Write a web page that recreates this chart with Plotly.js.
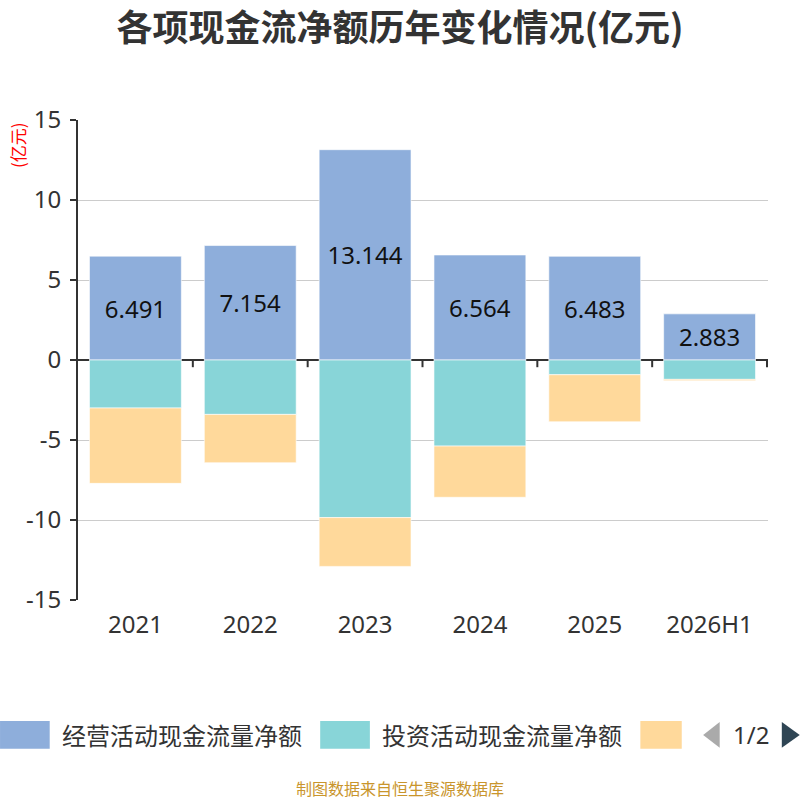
<!DOCTYPE html>
<html>
<head>
<meta charset="utf-8">
<script src="https://cdn.plot.ly/plotly-3.0.1.min.js"></script>
<style>
  html, body { margin: 0; padding: 0; background: #fff; }
  #chart { width: 800px; height: 800px; }
</style>
</head>
<body>
<div id="chart"></div>
<script>
// values (亿元)
var years = ['2021', '2022', '2023', '2024', '2025', '2026H1'];
var operating = [6.491, 7.154, 13.144, 6.564, 6.483, 2.883];
var investing = [-3.0, -3.4, -9.85, -5.38, -0.92, -1.21];
var financing = [-4.71, -3.02, -3.05, -3.2, -2.94, -0.08];

var yTicks = [-15, -10, -5, 0, 5, 10, 15];
var yTickText = ['-15', '-10', '-5', '0', '5', '10', '15'];

var seriesNames = ['经营活动现金流量净额', '投资活动现金流量净额', '筹资活动现金流量净额'];
var seriesColors = ['#8eaedb', '#88d5d8', '#ffd99b'];

var font = '"Noto Sans", "Noto Sans CJK SC", sans-serif';
var cjkFont = '"Noto Sans CJK SC", "Noto Sans", sans-serif';

function barTrace(values, i, withText) {
    var t = {
        type: 'bar',
        name: seriesNames[i],
        x: years,
        y: values,
        marker: { color: seriesColors[i], line: { color: 'rgba(255,255,255,0.6)', width: 1 } },
        hoverinfo: 'x+y+name',
        textposition: 'none'
    };
    if (withText) {
        t.text = values.map(function (v) { return v.toFixed(3); });
        t.textposition = 'inside';
        t.insidetextanchor = 'middle';
        t.textfont = { size: 24, color: '#111', family: font };
    }
    return t;
}

var data = [
    barTrace(operating, 0, true),
    barTrace(investing, 1, false),
    barTrace(financing, 2, false)
];

// hand-made legend (the original one pages: only two and a half items fit)
var shapes = [
    { type: 'rect', xref: 'paper', yref: 'paper', x0: -0.113, x1: -0.041, y0: -0.252, y1: -0.310,
      fillcolor: seriesColors[0], line: { width: 0 } },
    { type: 'rect', xref: 'paper', yref: 'paper', x0: 0.351, x1: 0.423, y0: -0.252, y1: -0.310,
      fillcolor: seriesColors[1], line: { width: 0 } },
    { type: 'rect', xref: 'paper', yref: 'paper', x0: 0.815, x1: 0.875, y0: -0.252, y1: -0.310,
      fillcolor: seriesColors[2], line: { width: 0 } },
    { type: 'path', xref: 'paper', yref: 'paper', path: 'M 0.906 -0.281 L 0.930 -0.254 L 0.930 -0.308 Z',
      fillcolor: '#aaaaaa', line: { width: 0 } },
    { type: 'path', xref: 'paper', yref: 'paper', path: 'M 1.046 -0.281 L 1.020 -0.254 L 1.020 -0.308 Z',
      fillcolor: '#2f4554', line: { width: 0 } }
];

// category-boundary ticks hanging from the zero line
for (var i = 0; i < years.length; i++) {
    shapes.push({ type: 'line', xref: 'x', yref: 'y', x0: i + 0.5, x1: i + 0.5, y0: 0, y1: -0.45,
                  line: { color: '#333', width: 2 } });
}

var annotations = [
    { text: seriesNames[0], xref: 'paper', yref: 'paper', x: -0.026, y: -0.281, xanchor: 'left', yanchor: 'middle',
      showarrow: false, font: { size: 24, color: '#333', family: cjkFont } },
    { text: seriesNames[1], xref: 'paper', yref: 'paper', x: 0.438, y: -0.281, xanchor: 'left', yanchor: 'middle',
      showarrow: false, font: { size: 24, color: '#333', family: cjkFont } },
    { text: '1/2', xref: 'paper', yref: 'paper', x: 0.975, y: -0.281, xanchor: 'center', yanchor: 'middle',
      showarrow: false, font: { size: 24, color: '#333', family: font } },
    { text: '(亿元)', xref: 'paper', yref: 'paper', x: -0.087, y: 0.948, xanchor: 'center', yanchor: 'middle',
      textangle: -90, showarrow: false, font: { size: 17, color: '#ff0000', family: cjkFont } },
    { text: '制图数据来自恒生聚源数据库', xref: 'paper', yref: 'paper', x: 0.467, y: -0.392,
      xanchor: 'center', yanchor: 'middle', showarrow: false, font: { size: 16, color: '#c9952c', family: cjkFont } }
];

var layout = {
    width: 800,
    height: 800,
    margin: { l: 78, r: 32, t: 120, b: 200 },
    paper_bgcolor: '#fff',
    plot_bgcolor: '#fff',
    font: { family: font, color: '#333' },
    title: {
        text: '<b>各项现金流净额历年变化情况(亿元)</b>',
        x: 0.5, xanchor: 'center',
        y: 0.965, yanchor: 'middle', yref: 'container',
        font: { size: 36, color: '#333', family: cjkFont }
    },
    barmode: 'relative',
    bargap: 0.2,
    showlegend: false,
    xaxis: {
        type: 'category',
        showline: false,
        showgrid: false,
        zeroline: false,
        ticks: '',
        ticklabelstandoff: 8,
        tickfont: { size: 24, color: '#333' }
    },
    yaxis: {
        range: [-15, 15],
        tickvals: yTicks,
        ticktext: yTickText,
        showgrid: true,
        gridcolor: '#cccccc',
        gridwidth: 1,
        zeroline: true,
        zerolinecolor: '#333',
        zerolinewidth: 2,
        showline: true,
        linecolor: '#333',
        linewidth: 2,
        ticks: 'outside',
        ticklen: 6,
        tickwidth: 2,
        tickcolor: '#333',
        ticklabelstandoff: 4,
        tickfont: { size: 24, color: '#333' }
    },
    shapes: shapes,
    annotations: annotations
};

Plotly.newPlot('chart', data, layout, { displayModeBar: false, staticPlot: true });
</script>
</body>
</html>
